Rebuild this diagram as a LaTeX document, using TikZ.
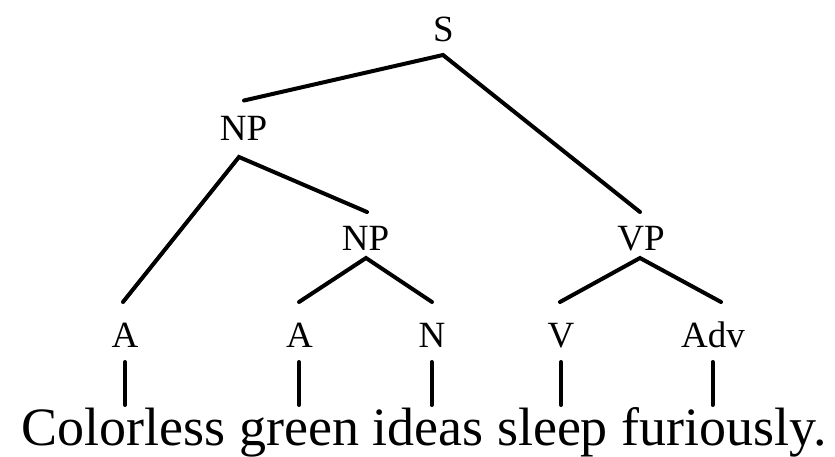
\documentclass[tikz,border=0pt]{standalone}
\usepackage{fontspec}
\setmainfont{Liberation Serif}
\begin{document}
\begin{tikzpicture}[x=1pt,y=-1pt,
  lab/.style={anchor=base,inner sep=0pt,font=\fontsize{37}{40}\selectfont},
  sent/.style={anchor=base,inner sep=0pt,font=\fontsize{54}{60}\selectfont},
  edge/.style={line width=4pt,line cap=round,black}]
\useasboundingbox (0,0) rectangle (835,456);
% labels
\node[lab] (S) at (443.5,41) {S};
\node[lab] (NPa) at (243.5,140) {NP};
\node[lab] (NPb) at (365.5,250) {NP};
\node[lab] (VP) at (641,250) {VP};
\node[lab] (Aa) at (125,347) {A};
\node[lab] (Ab) at (299.5,347) {A};
\node[lab] (N) at (432,347) {N};
\node[lab] (V) at (561,347) {V};
\node[lab] (Adv) at (713,347) {Adv};
\node[sent] (sentence) at (424,445) {Colorless green ideas sleep furiously.};
% connector end points
\coordinate (S-b) at (443,55);
\coordinate (NPa-t) at (244,100.5);
\coordinate (NPa-b) at (239,157);
\coordinate (NPb-t) at (367,212);
\coordinate (NPb-b) at (366,258);
\coordinate (VP-t) at (640,212);
\coordinate (VP-b) at (640,258);
\coordinate (Aa-t) at (123,302);
\coordinate (Ab-t) at (299,302);
\coordinate (N-t) at (432,302);
\coordinate (V-t) at (560,302);
\coordinate (Adv-t) at (721,302);
\coordinate (Aa-b) at (125,362);
\coordinate (Ab-b) at (299,362);
\coordinate (N-b) at (431.5,362);
\coordinate (V-b) at (561,362);
\coordinate (Adv-b) at (712.5,362);
\coordinate (w1) at (125,405);
\coordinate (w2) at (299,405);
\coordinate (w3) at (431.5,405);
\coordinate (w4) at (561,405);
\coordinate (w5) at (712.5,405);
% edges
\draw[edge] (NPa-t) -- (S-b) -- (VP-t);
\draw[edge] (Aa-t) -- (NPa-b) -- (NPb-t);
\draw[edge] (Ab-t) -- (NPb-b) -- (N-t);
\draw[edge] (V-t) -- (VP-b) -- (Adv-t);
\draw[edge] (Aa-b) -- (w1);
\draw[edge] (Ab-b) -- (w2);
\draw[edge] (N-b) -- (w3);
\draw[edge] (V-b) -- (w4);
\draw[edge] (Adv-b) -- (w5);
\end{tikzpicture}
\end{document}
